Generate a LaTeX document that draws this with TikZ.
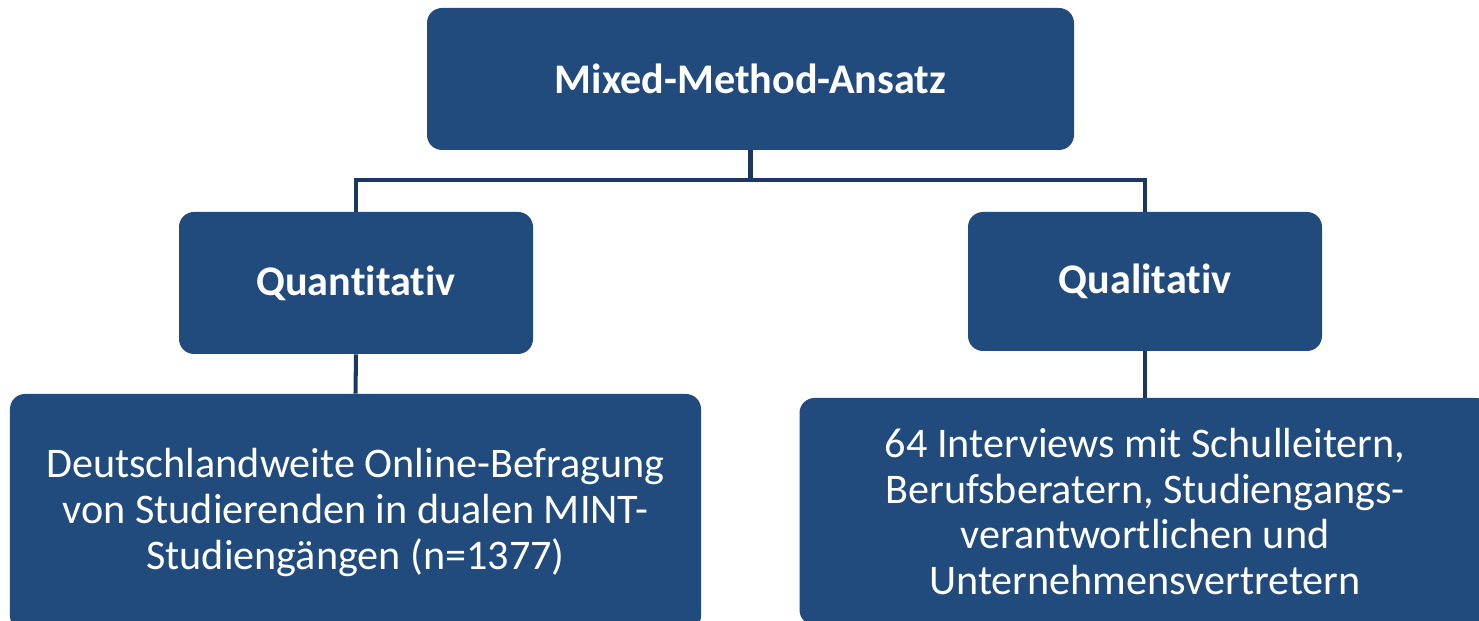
\documentclass[tikz,border=0pt]{standalone}
\usepackage{fontspec}
\setmainfont{Carlito}[Ligatures=NoCommon]
\definecolor{boxblue}{RGB}{33,74,125}
\definecolor{linenavy}{RGB}{28,56,98}
\begin{document}
\begin{tikzpicture}[
    box/.style={rectangle, rounded corners=0.3cm, fill=boxblue, text=white,
        align=center, inner sep=0pt, font=\fontsize{24}{26}\selectfont},
    headbox/.style={box, font=\fontsize{24}{26}\selectfont\bfseries},
    conn/.style={draw=linenavy, line width=2.3pt}
  ]
  \useasboundingbox (0,0) rectangle (29.58,-12.42);
  %ebene 1
  \node[headbox, minimum width=12.94cm, minimum height=2.84cm] (mixed) at (15.01,-1.58) {Mixed-Method-Ansatz};
  %ebene 2
  \node[headbox, minimum width=7.08cm, minimum height=2.84cm] (quant) at (7.12,-5.66) {Quantitativ};
  \node[headbox, minimum width=7.08cm, minimum height=2.78cm] (qual) at (22.90,-5.63) {Qualitativ};
  %ebene 3
  \node[box, minimum width=13.82cm, minimum height=4.74cm] (online) at (7.11,-10.25)
    {Deutschlandweite Online-Befragung\\von Studierenden in dualen MINT-\\Studiengängen (n=1377)};
  \node[box, minimum width=13.82cm, minimum height=4.54cm] (interv) at (22.90,-10.23)
    {64 Interviews mit Schulleitern,\\Berufsberatern, Studiengangs-\\verantwortlichen und\\Unternehmensvertretern};
  %verbindungen
  \coordinate (junc) at (15.01,-3.6);
  \draw[conn] (mixed.south) -- (junc);
  \draw[conn] (quant.north) -- (quant.north |- junc) -- (qual.north |- junc) -- (qual.north);
  \draw[conn] (quant.south) -- (online.north);
  \draw[conn] (qual.south) -- (interv.north);
\end{tikzpicture}
\end{document}
